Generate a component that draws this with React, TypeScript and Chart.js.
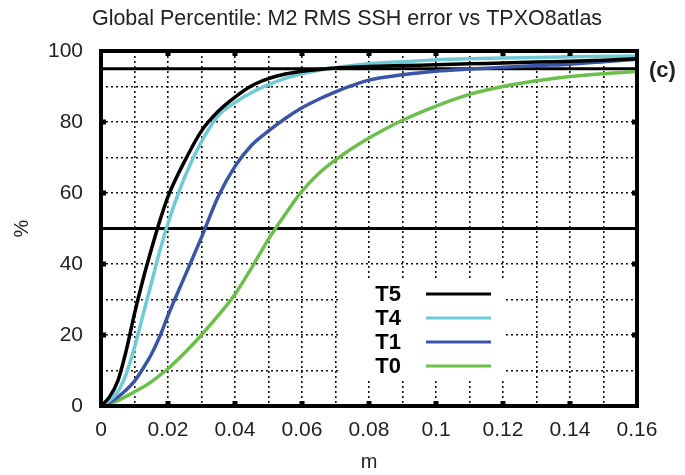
import React, { useEffect, useRef } from "react";
import { Chart, registerables } from "chart.js";

Chart.register(...registerables);

const TITLE = "Global Percentile: M2 RMS SSH error vs TPXO8atlas";
const PANEL = "(c)";
const X_TITLE = "m";
const Y_TITLE = "%";

const xValues = [0, 0.0025, 0.005, 0.0075, 0.01, 0.0125, 0.015, 0.0175, 0.02, 0.025, 0.03, 0.035, 0.04, 0.045, 0.05, 0.055, 0.06, 0.065, 0.07, 0.075, 0.08, 0.09, 0.1, 0.11, 0.12, 0.13, 0.14, 0.15, 0.16];

const seriesNames = ["T5", "T4", "T1", "T0"];
const t5 = [0, 2.5, 7, 15.5, 26, 35.5, 44, 52, 59, 69, 77.5, 83, 87, 90.2, 92.2, 93.5, 94.3, 94.8, 95.2, 95.4, 95.6, 95.9, 96.1, 96.4, 96.6, 96.9, 97.1, 97.4, 97.8];
const t4 = [0, 1.5, 4, 9, 16.5, 25.5, 34.5, 43.5, 51.5, 64.5, 74.5, 81.8, 85.5, 88.3, 90.5, 92.3, 93.6, 94.6, 95.3, 95.9, 96.4, 97, 97.5, 97.8, 98, 98.2, 98.4, 98.5, 98.6];
const t1 = [0, 1, 2.5, 4.5, 7, 10.5, 14.5, 19.5, 25.5, 36.5, 47.5, 59, 67.5, 73.5, 77.5, 81, 84, 86.4, 88.5, 90.3, 91.8, 93.3, 94.3, 94.9, 95.4, 95.9, 96.3, 97, 97.7];
const t0 = [0, 0.6, 1.5, 2.7, 4, 5.3, 6.8, 8.6, 10.5, 15, 20, 25.5, 31.5, 39, 47, 54, 60.5, 65.5, 69.3, 72.6, 75.5, 80.5, 84.5, 87.8, 90, 91.6, 92.8, 93.6, 94.2];
const seriesValues = [t5, t4, t1, t0];
const seriesColors = ["#000000", "#6fcad6", "#3b54a6", "#6cbf4b"];

const refLevels = [95, 50];

const xMin = 0;
const xMax = 0.16;
const xStep = 0.01;
const yMin = 0;
const yMax = 100;
const yStep = 10;

const FONT = "'Liberation Sans', Arial, sans-serif";

const decorPlugin = {
  id: "decor",
  afterDraw(chart: any) {
    const { ctx, chartArea } = chart;
    const xs = chart.scales.x;
    const ys = chart.scales.y;
    const { left, right, top, bottom } = chartArea;
    ctx.save();
    ctx.strokeStyle = "#000";
    ctx.lineWidth = 4;
    ctx.setLineDash([]);
    ctx.strokeRect(left, top, right - left, bottom - top);
    ctx.fillStyle = "#000";
    for (let v = 0.02; v < xMax - 1e-9; v += 0.02) {
      const px = xs.getPixelForValue(v);
      ctx.fillRect(px - 2.5, top, 5, 5);
      ctx.fillRect(px - 2.5, bottom - 5, 5, 5);
    }
    for (let v = 20; v < yMax; v += 20) {
      const py = ys.getPixelForValue(v);
      ctx.fillRect(left, py - 2.5, 5, 5);
      ctx.fillRect(right - 5, py - 2.5, 5, 5);
    }
    // legend
    ctx.fillStyle = "#fff";
    ctx.fillRect(339, 278, 166, 102);
    ctx.font = `bold 22px ${FONT}`;
    ctx.textAlign = "right";
    ctx.textBaseline = "middle";
    seriesNames.forEach((name, i) => {
      const y = 294 + i * 24;
      ctx.fillStyle = "#000";
      ctx.fillText(name, 401, y + 1);
      ctx.strokeStyle = seriesColors[i];
      ctx.lineWidth = 3;
      ctx.beginPath();
      ctx.moveTo(426, y);
      ctx.lineTo(491, y);
      ctx.stroke();
    });
    ctx.fillStyle = "#222";
    ctx.font = `bold 22px ${FONT}`;
    ctx.textAlign = "left";
    ctx.fillText(PANEL, 649, 71);
    ctx.font = `21.5px ${FONT}`;
    ctx.textAlign = "center";
    ctx.fillStyle = "#222";
    ctx.fillText(TITLE, 347, 19);
    ctx.restore();
  },
};

export default function App() {
  const ref = useRef<HTMLCanvasElement | null>(null);
  useEffect(() => {
    if (!ref.current) return;
    const datasets: any[] = seriesNames.map((name, i) => ({
      label: name,
      data: xValues.map((x, j) => ({ x, y: seriesValues[i][j] })),
      borderColor: seriesColors[i],
      backgroundColor: seriesColors[i],
      borderWidth: 3.5,
      pointRadius: 0,
      cubicInterpolationMode: "monotone",
      fill: false,
    }));
    refLevels.forEach((lvl) => {
      datasets.push({
        label: "ref" + lvl,
        data: [{ x: xMin, y: lvl }, { x: xMax, y: lvl }],
        borderColor: "#000",
        borderWidth: 3,
        pointRadius: 0,
        fill: false,
      });
    });
    const chart = new Chart(ref.current, {
      type: "line",
      data: { datasets },
      options: {
        responsive: false,
        animation: false,
        layout: { padding: { top: 51, right: 48, left: 0, bottom: 0 } },
        plugins: { legend: { display: false }, title: { display: false }, tooltip: { enabled: false } },
        scales: {
          x: {
            type: "linear",
            min: xMin,
            max: xMax,
            afterFit: (s: any) => { s.height = 69; },
            ticks: {
              stepSize: xStep,
              autoSkip: false,
              maxRotation: 0,
              padding: 12,
              color: "#222",
              font: { family: FONT, size: 21 },
              callback: (v: any) => {
                const n = Math.round(Number(v) * 100);
                return n % 2 === 0 ? String(+(n / 100).toFixed(2)) : "";
              },
            },
            grid: { color: "#111", lineWidth: 1.6, drawTicks: false },
            border: { display: false, dash: [2, 3] },
            title: { display: true, text: X_TITLE, color: "#222", font: { family: FONT, size: 20 }, padding: { top: 0, bottom: 1 } },
          },
          y: {
            type: "linear",
            min: yMin,
            max: yMax,
            afterFit: (s: any) => { s.width = 101; },
            ticks: {
              stepSize: yStep,
              autoSkip: false,
              padding: 18,
              color: "#222",
              font: { family: FONT, size: 21 },
              callback: (v: any) => (Number(v) % 20 === 0 ? String(v) : ""),
            },
            grid: { color: "#111", lineWidth: 1.6, drawTicks: false },
            border: { display: false, dash: [2, 3] },
            title: { display: true, text: Y_TITLE, color: "#222", font: { family: FONT, size: 20 }, padding: { top: 10, bottom: 0 } },
          },
        },
      },
      plugins: [decorPlugin],
    });
    return () => chart.destroy();
  }, []);
  return (
    <div style={{ position: "fixed", left: 0, top: 0, width: 685, height: 475, background: "#fff" }}>
      <canvas ref={ref} width={685} height={475} style={{ width: 685, height: 475, display: "block" }} />
    </div>
  );
}
